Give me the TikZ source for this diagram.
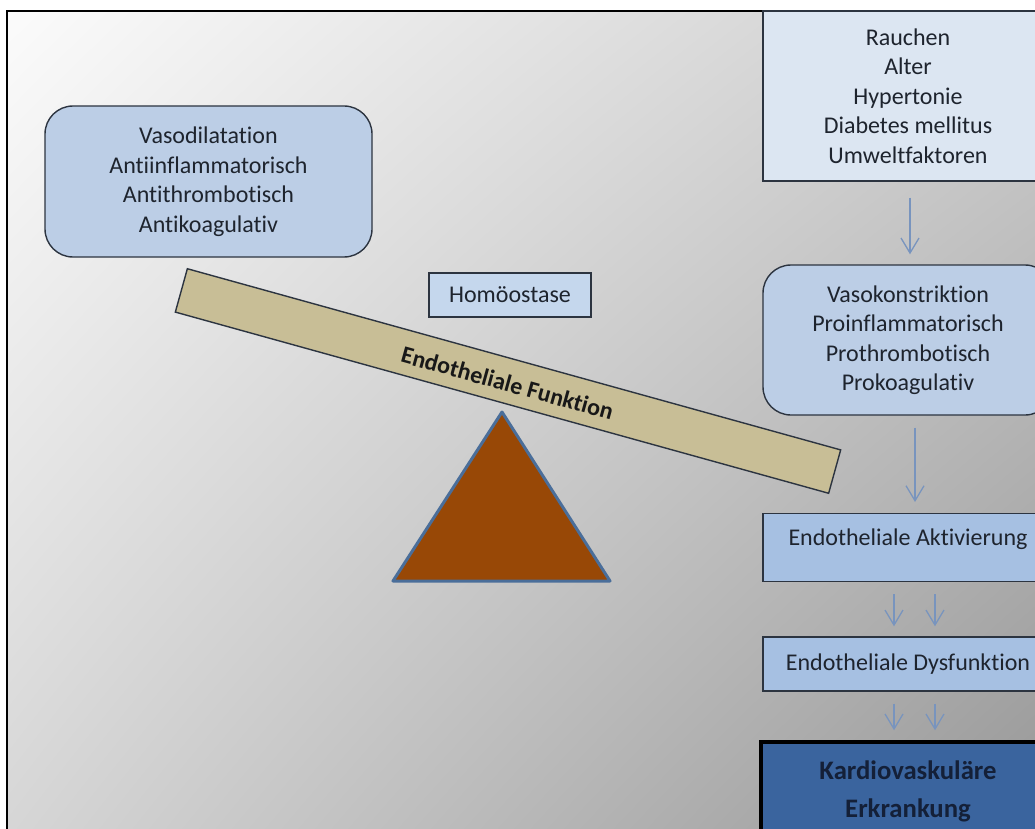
\documentclass[tikz,border=0pt]{standalone}
\usepackage{fontspec}
\setmainfont{Carlito}[Ligatures=NoCommon]
\usetikzlibrary{arrows.meta,shadings}

\definecolor{inkc}{RGB}{30,36,46}
\definecolor{edgec}{RGB}{44,52,64}
\definecolor{riskc}{RGB}{220,230,242}
\definecolor{softc}{RGB}{188,206,230}
\definecolor{homc}{RGB}{197,215,237}
\definecolor{midc}{RGB}{166,192,226}
\definecolor{kardc}{RGB}{58,100,158}
\definecolor{kardtext}{RGB}{20,32,56}
\definecolor{arrowc}{RGB}{120,148,190}
\definecolor{beamc}{RGB}{200,190,150}
\definecolor{fulcrumc}{RGB}{152,72,6}
\definecolor{fulcrumedge}{RGB}{74,110,154}
\definecolor{bgul}{RGB}{251,251,251}
\definecolor{bgur}{RGB}{205,205,205}
\definecolor{bgll}{RGB}{214,214,214}
\definecolor{bglr}{RGB}{152,152,152}

\begin{document}
\begin{tikzpicture}[x=1pt,y=-1pt,
  every node/.style={font=\fontsize{24}{29.5}\selectfont, text=inkc, inner sep=0pt, align=center},
  box/.style={draw=edgec, line width=1.4pt},
  roundbox/.style={box, rounded corners=28pt},
  flow/.style={draw=arrowc, line width=1.3pt, -{Straight Barb[length=15pt,width=18pt,line width=1.3pt]}}
]
\useasboundingbox (0,0) rectangle (1035,829);
\clip (0,0) rectangle (1035,829);

% background panel with diagonal grey gradient
\shade[upper left=bgul, upper right=bgur, lower left=bgll, lower right=bglr]
  (7,11) rectangle (1035,829);
\draw[line width=2.5pt] (7,900) -- (7,11) -- (1100,11);

% protective effects
\node[roundbox, fill=softc, minimum width=327pt, minimum height=151pt] (protect) at (208.5,181.5)
  {Vasodilatation\\Antiinflammatorisch\\Antithrombotisch\\Antikoagulativ};

% risk factors
\node[box, fill=riskc, minimum width=290pt, minimum height=170pt] (risk) at (908,96)
  {Rauchen\\Alter\\Hypertonie\\Diabetes mellitus\\Umweltfaktoren};

% harmful effects
\node[roundbox, fill=softc, minimum width=290pt, minimum height=150pt] (vaso) at (908,340)
  {Vasokonstriktion\\Proinflammatorisch\\Prothrombotisch\\Prokoagulativ};

% cascade
\node[box, fill=midc, minimum width=290pt, text height=32pt, text depth=36pt, anchor=north] (akt) at (908,513)
  {Endotheliale Aktivierung};
\node[box, fill=midc, minimum width=290pt, minimum height=54pt] (dys) at (908,664)
  {Endotheliale Dysfunktion};
\node[draw=black, line width=3.5pt, fill=kardc, minimum width=294pt, minimum height=98pt,
      font=\bfseries\fontsize{26.7}{38}\selectfont, text=kardtext] (kard) at (908,791)
  {Kardiovaskuläre\\Erkrankung};

% balance
\node[box, fill=homc, minimum width=162pt, minimum height=44pt] (hom) at (510,295) {Homöostase};
\node[box, fill=beamc, rotate=-15.5, minimum width=678pt, minimum height=45pt,
      text height=27pt, text depth=6pt,
      font=\bfseries\fontsize{24}{29.5}\selectfont, text={rgb,255:red,24;green,24;blue,24}] (lever) at (508,381)
  {Endotheliale Funktion};
\draw[fill=fulcrumc, draw=fulcrumedge, line width=3pt, line join=round]
  (502,412) -- (393,581) -- (610,581) -- cycle;

% arrows
\draw[flow, shorten <=16pt, shorten >=10pt] ([xshift=2pt]risk.south) -- ([xshift=2pt]vaso.north);
\draw[flow, shorten <=12pt, shorten >=11pt] ([xshift=7pt]vaso.south) -- ([xshift=7pt]akt.north);
\foreach \dx in {-14,27} {
  \draw[flow, shorten <=12pt, shorten >=10pt] ([xshift=\dx pt]akt.south) -- ([xshift=\dx pt]dys.north);
  \draw[flow, shorten <=12pt, shorten >=10pt] ([xshift=\dx pt]dys.south) -- ([xshift=\dx pt]kard.north);
}
\end{tikzpicture}
\end{document}
